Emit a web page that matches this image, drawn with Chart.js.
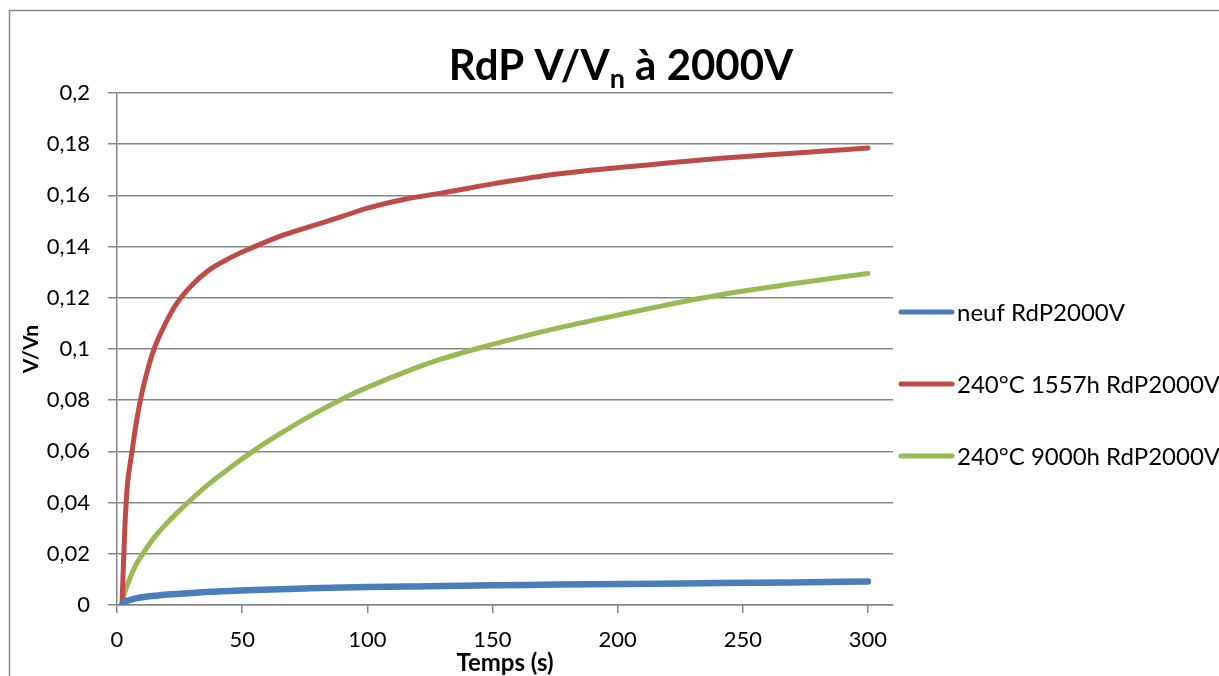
<!DOCTYPE html>
<html>
<head>
<meta charset="utf-8">
<script src="https://cdn.jsdelivr.net/npm/chart.js@4.4.1/dist/chart.umd.min.js"></script>
<style>
  body { margin: 0; background: #fff; }
  canvas { display: block; }
</style>
</head>
<body>
<canvas id="myChart" width="1219" height="676"></canvas>
<script>
// valeurs
const temps = [2, 3, 4, 6, 8, 10, 12, 15, 19, 24, 30, 37, 45, 55, 65, 77, 90, 100, 115, 130, 150, 170, 190, 215, 240, 270, 300];
const neuf = [0, 0.0012, 0.0016, 0.0022, 0.0027, 0.003, 0.0033, 0.0036, 0.004, 0.0043, 0.0047, 0.0052, 0.0055, 0.0059, 0.0062, 0.0065, 0.0068, 0.007, 0.0072, 0.0074, 0.0077, 0.0079, 0.0081, 0.0083, 0.0086, 0.0088, 0.0092];
const h1557 = [0, 0.027, 0.045, 0.06, 0.073, 0.083, 0.091, 0.1005, 0.1093, 0.118, 0.125, 0.131, 0.1355, 0.14, 0.144, 0.1478, 0.1518, 0.155, 0.1585, 0.161, 0.1645, 0.1676, 0.1699, 0.1722, 0.1744, 0.1765, 0.1785];
const h9000 = [0, 0.0045, 0.0075, 0.0125, 0.0165, 0.0195, 0.0225, 0.0265, 0.031, 0.036, 0.0415, 0.0475, 0.0535, 0.0605, 0.0668, 0.0738, 0.0805, 0.085, 0.091, 0.0962, 0.1018, 0.1068, 0.1112, 0.1163, 0.121, 0.1255, 0.1295];

const noms = ["neuf RdP2000V", "240°C 1557h RdP2000V", "240°C 9000h RdP2000V"];
const couleurs = ["#4A7EBB", "#BE4B48", "#98B954"];
const gris = "#868686";
const police = "Lato, 'Open Sans', sans-serif";

function points(valeurs) {
  return temps.map((t, i) => ({ x: t, y: valeurs[i] }));
}

// cadre + fond
const cadre = {
  id: "cadre",
  beforeDraw(chart) {
    const ctx = chart.ctx;
    ctx.save();
    ctx.fillStyle = "#fff";
    ctx.fillRect(0, 0, chart.width, chart.height);
    ctx.strokeStyle = gris;
    ctx.lineWidth = 1.5;
    ctx.strokeRect(9.5, 10.5, 1400, 1000);
    ctx.restore();
  },
};

// titre avec indice
const titre = {
  id: "titre",
  afterDraw(chart) {
    const ctx = chart.ctx;
    ctx.save();
    ctx.fillStyle = "#000";
    ctx.textBaseline = "alphabetic";
    const grand = "bold 42px " + police;
    const petit = "bold 27px " + police;
    ctx.font = grand;
    const w1 = ctx.measureText("RdP V/V").width;
    const w3 = ctx.measureText(" à 2000V").width;
    ctx.font = petit;
    const w2 = ctx.measureText("n").width;
    let x = 621 - (w1 + w2 + w3) / 2;
    const y = 80;
    ctx.font = grand;
    ctx.fillText("RdP V/V", x, y);
    x += w1;
    ctx.font = petit;
    ctx.fillText("n", x, y + 8);
    x += w2;
    ctx.font = grand;
    ctx.fillText(" à 2000V", x, y);
    ctx.restore();
  },
};

// legende a droite
const legende = {
  id: "legende",
  afterDraw(chart) {
    const ctx = chart.ctx;
    const ys = [312, 384, 456];
    ctx.save();
    ctx.lineWidth = 5;
    ctx.lineCap = "round";
    ctx.font = "24px " + police;
    ctx.textBaseline = "middle";
    ctx.fillStyle = "#000";
    noms.forEach((nom, i) => {
      ctx.strokeStyle = couleurs[i];
      ctx.beginPath();
      ctx.moveTo(901, ys[i]);
      ctx.lineTo(952, ys[i]);
      ctx.stroke();
      ctx.fillText(nom, 957, ys[i] + 1);
    });
    ctx.restore();
  },
};

const series = [neuf, h1557, h9000];

const ctx = document.getElementById("myChart");
window.myChart = new Chart(ctx, {
  type: "line",
  data: {
    datasets: series.map((s, i) => ({
      label: noms[i],
      data: points(s),
      borderColor: couleurs[i],
      backgroundColor: couleurs[i],
      borderWidth: i === 0 ? 6.5 : 5,
      pointRadius: 0,
      fill: false,
      cubicInterpolationMode: "monotone",
      borderCapStyle: "round",
    })),
  },
  options: {
    responsive: false,
    animation: false,
    layout: { padding: { left: 0, top: 93, right: 326, bottom: 0 } },
    plugins: {
      legend: { display: false },
      title: { display: false },
      tooltip: { enabled: false },
    },
    scales: {
      x: {
        type: "linear",
        min: 0,
        max: 310,
        ticks: {
          stepSize: 50,
          includeBounds: false,
          color: "#000",
          padding: 14,
          maxRotation: 0,
          font: { family: police, size: 22 },
        },
        grid: { drawOnChartArea: false, drawTicks: true, tickLength: 8, color: gris, lineWidth: 1.5 },
        border: { color: gris, width: 1.5 },
        title: {
          display: true,
          text: "Temps (s)",
          color: "#000",
          font: { family: police, size: 24, weight: "bold" },
          padding: { top: 0, bottom: -2 },
        },
        afterFit(scale) {
          scale.height = 71;
        },
      },
      y: {
        min: 0,
        max: 0.2,
        ticks: {
          stepSize: 0.02,
          color: "#000",
          padding: 18,
          font: { family: police, size: 22 },
          callback: (v) => String(+v.toFixed(2)).replace(".", ","),
        },
        grid: { color: gris, lineWidth: 1.5, tickLength: 9 },
        border: { color: gris, width: 1.5 },
        title: {
          display: true,
          text: "V/Vn",
          color: "#000",
          font: { family: police, size: 21, weight: "bold" },
          padding: { top: 19, bottom: 0 },
        },
        afterFit(scale) {
          scale.width = 117;
        },
      },
    },
  },
  plugins: [cadre, titre, legende],
});
</script>
</body>
</html>
